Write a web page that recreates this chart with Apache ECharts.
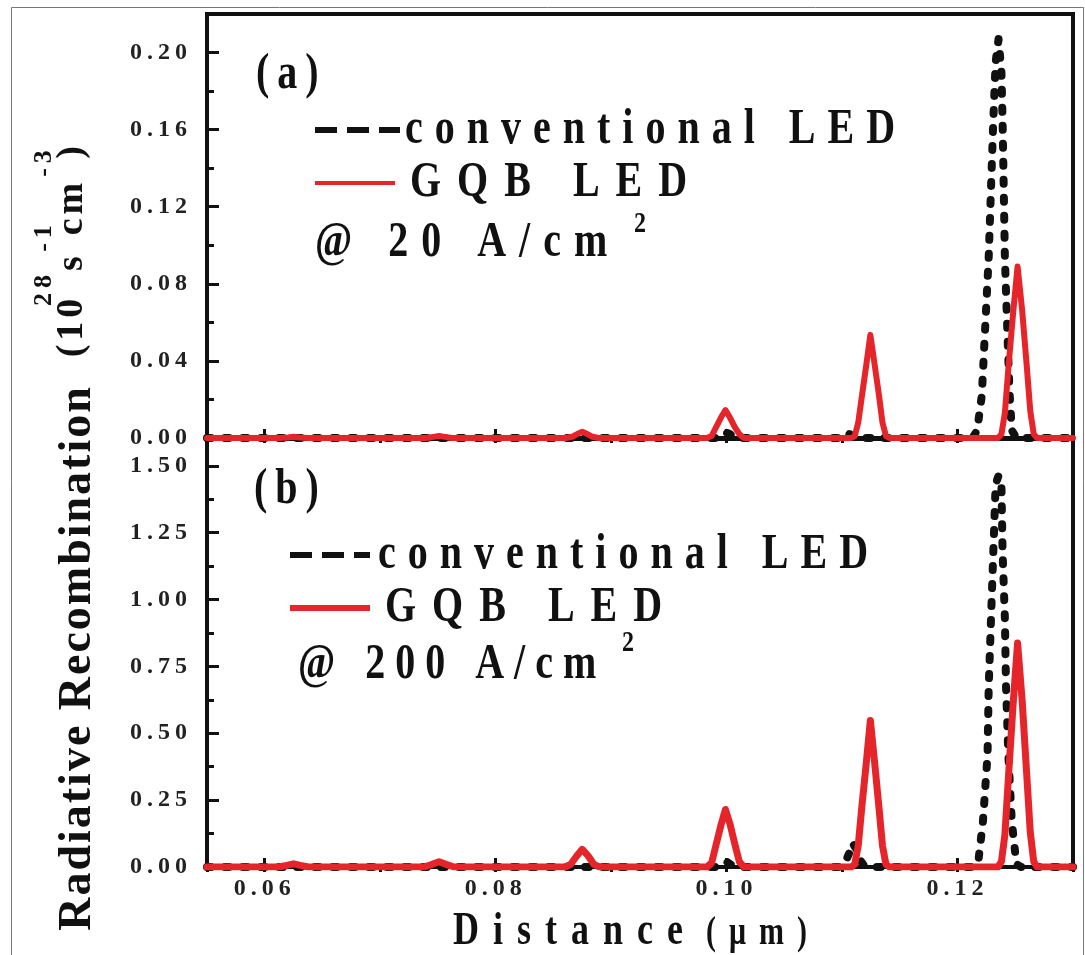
<!DOCTYPE html>
<html><head><meta charset="utf-8">
<script src="https://cdn.jsdelivr.net/npm/echarts@6/dist/echarts.min.js"></script>
<style>html,body{margin:0;padding:0;background:#fff}#c{width:1085px;height:955px}</style>
</head><body><div id="c"></div>
<script>
// ---------- data ----------
const xMin = 0.055, xMax = 0.13;
const yMaxA = 0.22, yStepA = 0.04;
const yMaxB = 1.6, yStepB = 0.25;

// panel (a) @ 20 A/cm2
const convA_x = [0.055, 0.0994, 0.0998, 0.1000, 0.1003, 0.1007, 0.1096, 0.1100, 0.1104, 0.1108, 0.1113, 0.1213, 0.1217, 0.1221, 0.1224, 0.1227, 0.1229, 0.1231, 0.1233, 0.12355, 0.1238, 0.1239, 0.1240, 0.1241, 0.1243, 0.1245, 0.1247, 0.1251, 0.130];
const convA_y = [0, 0, 0.002, 0.0028, 0.002, 0, 0, 0.002, 0.0028, 0.0015, 0, 0, 0.004, 0.022, 0.058, 0.094, 0.130, 0.165, 0.195, 0.207, 0.190, 0.165, 0.130, 0.094, 0.058, 0.024, 0.004, 0, 0];
const gqbA_x = [0.055, 0.0612, 0.0620, 0.0625, 0.0630, 0.0638, 0.0740, 0.0746, 0.0751, 0.0756, 0.0762, 0.0861, 0.0867, 0.0871, 0.0875, 0.0879, 0.0883, 0.0889, 0.0983, 0.0987, 0.0991, 0.0995, 0.0999, 0.1003, 0.1007, 0.1011, 0.1015, 0.1108, 0.1111, 0.1114, 0.1117, 0.1121, 0.11245, 0.1128, 0.1132, 0.1135, 0.1138, 0.1141, 0.1235, 0.1238, 0.1241, 0.1244, 0.1248, 0.1252, 0.1256, 0.1260, 0.1263, 0.1266, 0.1269, 0.130];
const gqbA_y = [0, 0, 0.0003, 0.0006, 0.0003, 0, 0, 0.0006, 0.0011, 0.0006, 0, 0, 0.0008, 0.0022, 0.0032, 0.0022, 0.0008, 0, 0, 0.001, 0.0058, 0.0105, 0.0145, 0.0105, 0.0058, 0.002, 0, 0, 0.001, 0.008, 0.021, 0.038, 0.0535, 0.039, 0.022, 0.008, 0.001, 0, 0, 0.002, 0.013, 0.036, 0.064, 0.089, 0.066, 0.037, 0.014, 0.002, 0, 0];

// panel (b) @ 200 A/cm2
const convB_x = [0.055, 0.0990, 0.0996, 0.1000, 0.1004, 0.1010, 0.1098, 0.1103, 0.1106, 0.1109, 0.1112, 0.1115, 0.1119, 0.1124, 0.1214, 0.1218, 0.1222, 0.1226, 0.1227, 0.1229, 0.1231, 0.1233, 0.12355, 0.1238, 0.1239, 0.1241, 0.1242, 0.1244, 0.1247, 0.1251, 0.1255, 0.130];
const convB_y = [0, 0, 0.008, 0.02, 0.008, 0, 0, 0.02, 0.05, 0.09, 0.07, 0.03, 0.005, 0, 0, 0.02, 0.17, 0.42, 0.675, 0.93, 1.18, 1.43, 1.463, 1.43, 1.18, 0.93, 0.675, 0.42, 0.17, 0.01, 0, 0];
const gqbB_x = [0.055, 0.0612, 0.0619, 0.0625, 0.0631, 0.0638, 0.0738, 0.0745, 0.0751, 0.0757, 0.0764, 0.0860, 0.0865, 0.0870, 0.0875, 0.0880, 0.0885, 0.0890, 0.0983, 0.0987, 0.0991, 0.0995, 0.0999, 0.1003, 0.1007, 0.1011, 0.1015, 0.1108, 0.1111, 0.1114, 0.1117, 0.1121, 0.11245, 0.1128, 0.1132, 0.1135, 0.1138, 0.1141, 0.1235, 0.1238, 0.1241, 0.1244, 0.1248, 0.1252, 0.1256, 0.1260, 0.1263, 0.1266, 0.1269, 0.130];
const gqbB_y = [0, 0, 0.006, 0.012, 0.006, 0, 0, 0.01, 0.02, 0.01, 0, 0, 0.01, 0.04, 0.066, 0.042, 0.01, 0, 0, 0.015, 0.085, 0.155, 0.215, 0.16, 0.088, 0.02, 0, 0, 0.01, 0.08, 0.22, 0.39, 0.548, 0.40, 0.22, 0.08, 0.01, 0, 0, 0.02, 0.12, 0.33, 0.60, 0.837, 0.62, 0.34, 0.13, 0.02, 0, 0];

const seriesNames = ['conventional LED', 'GQB LED'];
const currentLabels = ['@ 20 A/cm', '@ 200 A/cm'];

// ---------- letter spacing (the figure uses widely tracked type) ----------
const SPACING = {
  'conventional LED': 12, 'GQB LED': 16, '@ 20 A/cm': 13, '@ 200 A/cm': 10,
  '(a)': 8, '(b)': 8, 'Distance': 14, '(μm)': 13,
  'Radiative Recombination': 2, '(10': 4, 'cm': 4
};
function spacingFor(t) {
  if (SPACING[t] !== undefined) return SPACING[t];
  if (/^\d\.\d\d$/.test(t)) return 5;
  return 0;
}
const origFill = CanvasRenderingContext2D.prototype.fillText;
CanvasRenderingContext2D.prototype.fillText = function (t, x, y, w) {
  const s = spacingFor(String(t));
  if (s && 'letterSpacing' in this) {
    const prev = this.letterSpacing;
    this.letterSpacing = s + 'px';
    if (w === undefined) origFill.call(this, t, x, y); else origFill.call(this, t, x, y, w);
    this.letterSpacing = prev;
  } else {
    if (w === undefined) origFill.call(this, t, x, y); else origFill.call(this, t, x, y, w);
  }
};

// ---------- chart ----------
const zip = (xs, ys) => xs.map((x, i) => [x, ys[i]]);
const INK = '#111';
const RED = '#e5252a';
const FONT = '"Liberation Serif", "Times New Roman", serif';

const grids = [
  { left: 207, top: 14, width: 866, height: 424, show: true, borderColor: INK, borderWidth: 4 },
  { left: 207, top: 439, width: 866, height: 428, show: true, borderColor: INK, borderWidth: 4 }
];

function xAxes(g, labels) {
  return [
    { type: 'value', gridIndex: g, min: xMin, max: xMax, splitNumber: 4,
      axisLine: { show: true, lineStyle: { color: INK, width: 4 } },
      axisTick: { show: true, inside: true, length: 9, lineStyle: { color: INK, width: 3 } },
      axisLabel: { show: labels, showMinLabel: false, showMaxLabel: false, margin: 10,
        formatter: v => v.toFixed(2), fontFamily: FONT, fontWeight: 'bold', fontSize: 24, color: '#222' },
      splitLine: { show: false } },
    { type: 'value', gridIndex: g, min: xMin, max: xMax, splitNumber: 8,
      axisLine: { show: false },
      axisTick: { show: true, inside: true, length: 5, lineStyle: { color: INK, width: 3 } },
      axisLabel: { show: false }, splitLine: { show: false } }
  ];
}
function yAxes(g, max, step) {
  return [
    { type: 'value', gridIndex: g, min: 0, max: max, interval: step, position: 'left',
      axisLine: { show: true, lineStyle: { color: INK, width: 4 } },
      axisTick: { show: true, inside: true, length: 12, lineStyle: { color: INK, width: 3 } },
      axisLabel: { showMaxLabel: false, margin: 15, formatter: v => v.toFixed(2),
        fontFamily: FONT, fontWeight: 'bold', fontSize: 24, color: '#222' },
      splitLine: { show: false } },
    { type: 'value', gridIndex: g, min: 0, max: max, interval: step / 2, position: 'left', offset: 0,
      axisLine: { show: false },
      axisTick: { show: true, inside: true, length: 7, lineStyle: { color: INK, width: 3 } },
      axisLabel: { show: false }, splitLine: { show: false } }
  ];
}

function lineSeries(name, data, xi, yi, dashed, width) {
  return {
    name: name, type: 'line', xAxisIndex: xi, yAxisIndex: yi, data: data,
    showSymbol: false, symbol: 'none', smooth: false, z: dashed ? 3 : 4,
    lineStyle: dashed
      ? { color: INK, width: width, type: [4, 14], cap: 'round', join: 'round' }
      : { color: RED, width: width, cap: 'round', join: 'round' }
  };
}

function T(text, x, y, size, o) {
  o = o || {};
  return {
    type: 'text', x: x, y: y, rotation: o.rot || 0, scaleY: o.sy || 1, scaleX: o.sx || 1, z: 50,
    style: {
      text: text, font: 'bold ' + size + 'px ' + FONT, fill: INK,
      textAlign: o.align || 'left', textVerticalAlign: 'middle',
      align: o.align || 'left', verticalAlign: 'middle'
    }
  };
}
function L(x1, x2, y, dashed, w) {
  return {
    type: 'line', z: 50,
    shape: { x1: x1, y1: y, x2: x2, y2: y },
    style: dashed ? { stroke: INK, lineWidth: w, lineDash: [22, 10] } : { stroke: RED, lineWidth: w }
  };
}

const R = Math.PI / 2;
const graphics = [
  { type: 'rect', z: 0, shape: { x: 11.5, y: 7.5, width: 1072, height: 960 }, style: { fill: null, stroke: '#777', lineWidth: 1 } },
  // panel a annotations
  T('(a)', 256, 75, 40, { sy: 1.25 }),
  L(315, 400, 130, true, 6), T(seriesNames[0], 405, 130, 40, { sy: 1.25 }),
  L(315, 395, 183, false, 4), T(seriesNames[1], 410, 183, 40, { sy: 1.25 }),
  T(currentLabels[0], 315, 243, 40, { sy: 1.25 }), T('2', 634, 224, 24, { sy: 1.25 }),
  // panel b annotations
  T('(b)', 254, 490, 40, { sy: 1.25 }),
  L(290, 370, 555, true, 6), T(seriesNames[0], 378, 555, 40, { sy: 1.25 }),
  L(290, 370, 608, false, 6), T(seriesNames[1], 385, 608, 40, { sy: 1.25 }),
  T(currentLabels[1], 298, 665, 40, { sy: 1.25 }), T('2', 622, 643, 24, { sy: 1.25 }),
  // x axis title
  T('Distance', 453, 932, 36, { sy: 1.3 }),
  T('(μm)', 706, 934, 30, { sy: 1.3 }),
  // y axis title
  T('Radiative Recombination', 78, 658, 46, { rot: R, align: 'center' }),
  T('(10', 72, 326, 38, { rot: R, align: 'center' }),
  T('28', 44, 288, 26, { rot: R, align: 'center' }),
  T('s', 72, 261, 38, { rot: R, align: 'center' }),
  T('-1', 44, 236, 26, { rot: R, align: 'center' }),
  T('cm', 72, 207, 38, { rot: R, align: 'center' }),
  T('-3', 44, 161, 26, { rot: R, align: 'center' }),
  T(')', 72, 150, 38, { rot: R, align: 'center' })
];

const chart = echarts.init(document.getElementById('c'), null, { renderer: 'canvas' });
chart.setOption({
  animation: false,
  backgroundColor: '#fff',
  grid: grids,
  xAxis: [].concat(xAxes(0, false), xAxes(1, true)),
  yAxis: [].concat(yAxes(0, yMaxA, yStepA), yAxes(1, yMaxB, yStepB)),
  series: [
    lineSeries(seriesNames[0], zip(convA_x, convA_y), 0, 0, true, 8),
    lineSeries(seriesNames[1], zip(gqbA_x, gqbA_y), 0, 0, false, 6),
    lineSeries(seriesNames[0], zip(convB_x, convB_y), 2, 2, true, 8),
    lineSeries(seriesNames[1], zip(gqbB_x, gqbB_y), 2, 2, false, 7)
  ],
  graphic: graphics
});
</script>
</body></html>
